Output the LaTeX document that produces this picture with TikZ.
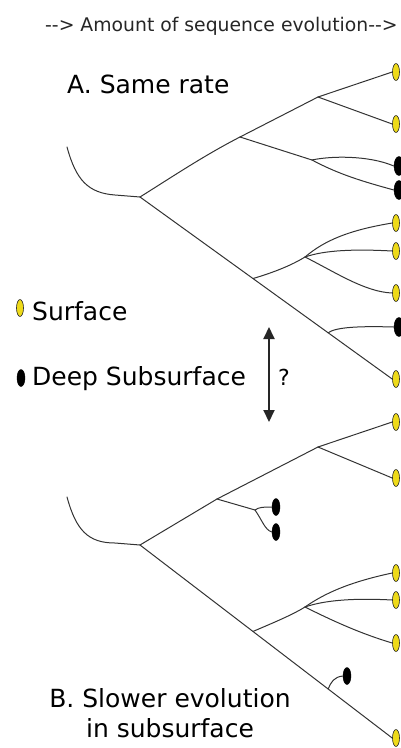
\documentclass[tikz,border=0pt]{standalone}
\usepackage{fontspec}
\setmainfont{DejaVu Sans}
\usetikzlibrary{shapes.geometric,arrows.meta,calc}
\definecolor{leafyellow}{RGB}{238,218,25}
\begin{document}
\begin{tikzpicture}[x=1pt,y=-1pt,
  branch/.style={line width=1pt, draw=black!80, line cap=round, line join=round},
  surf/.style={ellipse, draw=black!85, line width=0.6pt, fill=leafyellow, minimum width=7pt, minimum height=17pt, inner sep=0pt},
  deep/.style={ellipse, draw=black, fill=black, minimum width=8pt, minimum height=17pt, inner sep=0pt},
  deepbig/.style={deep, minimum width=10pt, minimum height=19pt},
  lbl/.style={font=\fontsize{25}{30}\selectfont, inner sep=0pt, anchor=base west}]
\useasboundingbox (0,0) rectangle (401,748);

% texts
\node[lbl, font=\fontsize{18.8}{22}\selectfont, text=black!85] (title) at (45,31) {-{}-> Amount of sequence evolution-{}->};
\node[lbl] (titleA) at (67,93) {A. Same rate};
\node[lbl] (surfl) at (32,320) {Surface};
\node[lbl] (deepl) at (32,385) {Deep Subsurface};
\node[lbl, font=\fontsize{22}{26}\selectfont] (q) at (278,385) {?};
\node[font=\fontsize{25}{30}\selectfont, inner sep=0pt, align=center, anchor=base] (titleB) at (170,737) {B. Slower evolution\\in subsurface};

% legend
\node[surf] (legS) at (20,308) {};
\node[deep] (legD) at (21,378) {};

% arrow
\coordinate (arrT) at (269,327);
\coordinate (arrB) at (269,422);
\draw[line width=2pt, black!85, {Triangle[width=11pt,length=12pt]}-{Triangle[width=11pt,length=12pt]}] (arrT) -- (arrB);

% ---------- Tree A ----------
\coordinate (a0) at (67,147);
\coordinate (aR) at (140,197);
\coordinate (aN1) at (240,137);
\coordinate (aN2) at (318,97);
\coordinate (aN3) at (312,160);
\node[surf] (aL1) at (396,72) {};
\node[surf] (aL2) at (396,124) {};
\node[deepbig] (aL3) at (399,166) {};
\node[deepbig] (aL4) at (399,190) {};
\node[surf] (aL5) at (396,223) {};
\node[surf] (aL6) at (396,251) {};
\node[surf] (aL7) at (396,293) {};
\node[deepbig] (aL8) at (399,327) {};
\node[surf] (aL9) at (396,379) {};
\coordinate (aN4) at ($(aR)!0.448!(aL9.west)$);
\coordinate (aN6) at ($(aR)!0.746!(aL9.west)$);
\coordinate (aN5) at (305,257);

\draw[branch] (a0) .. controls (76,180) and (88,193) .. (115,195) -- (aR);
\draw[branch] (aR) .. controls (175,175) and (205,155) .. (aN1);
\draw[branch] (aN1) -- (aN2);
\draw[branch] (aN2) -- (aL1.west);
\draw[branch] (aN2) -- (aL2.west);
\draw[branch] (aN1) -- (aN3);
\draw[branch] (aN3) .. controls (330,156) and (368,155) .. (aL3.west);
\draw[branch] (aN3) .. controls (340,175) and (365,182) .. (aL4.west);
\draw[branch] (aR) -- (aL9.west);
\draw[branch] (aN4) .. controls (275,272) and (292,265) .. (aN5);
\draw[branch] (aN5) .. controls (325,240) and (350,230) .. (aL5.west);
\draw[branch] (aN5) .. controls (325,250) and (355,249) .. (aL6.west);
\draw[branch] (aN5) .. controls (335,272) and (365,292) .. (aL7.west);
\draw[branch] (aN6) .. controls (336,327) and (360,326) .. (aL8.west);

% ---------- Tree B ----------
\coordinate (b0) at (67,497);
\coordinate (bR) at (140,545);
\coordinate (bN1) at (217,499);
\coordinate (bN2) at (318,447);
\coordinate (bN3) at (255,510);
\node[surf] (bL1) at (396,422) {};
\node[surf] (bL2) at (396,478) {};
\node[deep] (bL3) at (276,507) {};
\node[deep] (bL4) at (276,532) {};
\node[surf] (bL5) at (396,573) {};
\node[surf] (bL6) at (396,600) {};
\node[surf] (bL7) at (396,643) {};
\node[deep] (bL8) at (347,676) {};
\node[surf] (bL9) at (396,738) {};
\coordinate (bN4) at ($(bR)!0.448!(bL9.west)$);
\coordinate (bN6) at ($(bR)!0.746!(bL9.west)$);
\coordinate (bN5) at (305,607);

\draw[branch] (b0) .. controls (76,530) and (88,543) .. (115,543) -- (bR);
\draw[branch] (bR) -- (bN1);
\draw[branch] (bN1) -- (bN2);
\draw[branch] (bN2) -- (bL1.west);
\draw[branch] (bN2) -- (bL2.west);
\draw[branch] (bN1) -- (bN3);
\draw[branch] (bN3) .. controls (259,507) and (264,507) .. (bL3.west);
\draw[branch] (bN3) .. controls (262,520) and (265,530) .. (bL4.west);
\draw[branch] (bR) -- (bL9.west);
\draw[branch] (bN4) .. controls (275,622) and (292,615) .. (bN5);
\draw[branch] (bN5) .. controls (325,593) and (350,582) .. (bL5.west);
\draw[branch] (bN5) .. controls (325,600) and (355,598) .. (bL6.west);
\draw[branch] (bN5) .. controls (335,622) and (362,634) .. (bL7.west);
\draw[branch] (bN6) .. controls (331,682) and (334,677) .. (bL8.west);
\end{tikzpicture}
\end{document}
